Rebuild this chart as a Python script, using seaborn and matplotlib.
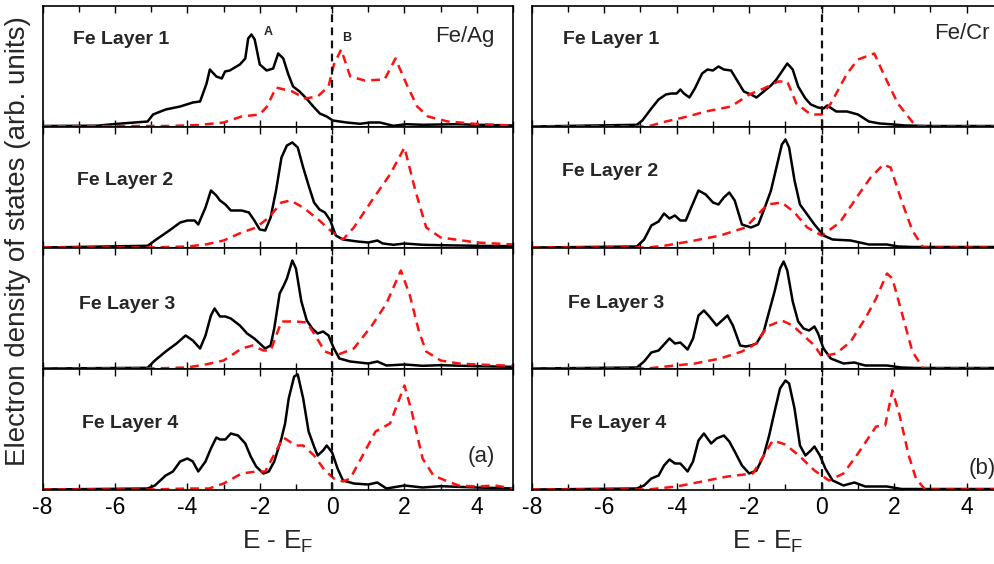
import numpy as np
import pandas as pd
import matplotlib
matplotlib.use("Agg")
import matplotlib.pyplot as plt
import seaborn as sns

sns.set_style("ticks")
plt.rcParams['font.family'] = ['Liberation Sans', 'DejaVu Sans']
plt.rcParams['mathtext.fontset'] = 'custom'
plt.rcParams['mathtext.rm'] = 'Liberation Sans'
plt.rcParams['axes.unicode_minus'] = False

# ---- data (E - E_F in eV, DOS in arb. units) ----
# Fe/Ag, black = spin up, red = spin down
ag1_up_e = [-8, -6.5, -6, -5.1, -4.95, -4.6, -4.2, -3.85, -3.65, -3.47, -3.38, -3.2, -3.05, -2.96, -2.83,
            -2.55, -2.4, -2.32, -2.23, -2.14, -2.0, -1.81, -1.63, -1.49, -1.35, -1.21, -1.08, -0.9, -0.71,
            -0.52, -0.34, -0.15, 0.02, 0.4, 0.77, 1.05, 1.32, 1.69, 2.05, 2.5, 3.43, 4.0, 5.0]
ag1_up = [0.5, 0.8, 2.5, 5, 12, 17, 20, 24, 25, 43, 57, 50, 48, 55, 56,
          62, 68, 88, 92, 87, 62, 56, 58, 73, 68, 52, 40, 35, 28,
          20, 13, 10, 6, 4, 2.7, 4, 4, 0.7, 2.3, 1.7, 2.3, 1.7, 1]
ag1_dn_e = [-8, -4.5, -3.7, -3.0, -2.5, -2.0, -1.8, -1.55, -1.1, -0.75, -0.4, -0.1, 0.05, 0.25, 0.5,
            0.9, 1.45, 1.75, 2.05, 2.35, 2.65, 3.2, 4.0, 5.0]
ag1_dn = [0.3, 0.5, 1.5, 4, 10, 12, 20, 39, 35, 28, 30, 40, 62, 77, 50,
          46, 47, 68, 43, 20, 10, 5, 2.5, 1]

ag2_up_e = [-8, -5.1, -4.9, -4.5, -4.2, -4.0, -3.8, -3.7, -3.5, -3.35, -3.2, -3.1, -2.95, -2.8, -2.5,
            -2.3, -2.15, -2.0, -1.85, -1.7, -1.55, -1.4, -1.25, -1.1, -0.95, -0.8, -0.65, -0.5, -0.35,
            -0.2, -0.05, 0.1, 0.3, 0.7, 1.0, 1.25, 1.4, 1.7, 2.0, 2.5, 3.0, 4.0, 5.0]
ag2_up = [0, 1.7, 7, 17, 25, 27, 27, 23, 40, 57, 52, 47, 43, 37, 37,
          35, 27, 18, 17, 30, 57, 90, 102, 105, 100, 80, 62, 45, 38,
          35, 27, 12, 8, 6, 5, 7, 4, 2.7, 4, 2.7, 2.3, 1.7, 1.3]
ag2_dn_e = [-8, -5, -4, -3.5, -3.0, -2.5, -2.1, -1.75, -1.4, -1.15, -0.8, -0.35, -0.05, 0.3, 0.6,
            1.1, 1.6, 2.0, 2.3, 2.6, 3.0, 4.0, 5.0]
ag2_dn = [0, 0, 1, 3, 7, 15, 20, 30, 45, 47, 40, 27, 17, 8, 20,
          47, 73, 100, 57, 20, 10, 5, 3]

ag3_up_e = [-8, -5.1, -4.9, -4.6, -4.3, -4.05, -3.85, -3.65, -3.5, -3.35, -3.25, -3.1, -2.95, -2.8,
            -2.55, -2.35, -2.15, -2.0, -1.85, -1.7, -1.6, -1.45, -1.35, -1.25, -1.1, -1.0, -0.85, -0.7,
            -0.55, -0.4, -0.25, -0.1, 0.05, 0.2, 0.5, 1.0, 1.25, 1.5, 2.0, 2.5, 3.0, 4.0, 5.0]
ag3_up = [0, 0.7, 8, 17, 25, 33, 28, 20, 33, 53, 60, 52, 52, 50,
          43, 35, 30, 25, 20, 23, 40, 75, 82, 90, 108, 100, 67, 48,
          40, 35, 37, 33, 20, 10, 7, 5, 7, 3, 4, 2.7, 3.3, 2.3, 1.7]
ag3_dn_e = [-8, -5, -4, -3.5, -3.0, -2.5, -2.2, -1.9, -1.7, -1.4, -1.0, -0.7, -0.5, -0.2, 0.1,
            0.6, 1.1, 1.5, 1.9, 2.15, 2.4, 2.6, 3.0, 3.5, 4.0, 5.0]
ag3_dn = [0, 0, 1, 4, 8, 20, 23, 18, 18, 47, 47, 46, 35, 17, 13,
          20, 43, 65, 98, 73, 37, 17, 8, 5, 4, 2.7]

ag4_up_e = [-8, -5.1, -4.9, -4.6, -4.4, -4.2, -4.0, -3.85, -3.7, -3.5, -3.35, -3.2, -3.1, -2.95, -2.8,
            -2.6, -2.4, -2.25, -2.1, -1.9, -1.75, -1.6, -1.4, -1.3, -1.2, -1.05, -0.95, -0.8, -0.65,
            -0.5, -0.4, -0.25, -0.15, 0.0, 0.15, 0.3, 0.6, 1.0, 1.25, 1.5, 2.0, 2.5, 3.0, 4.0, 5.0]
ag4_up = [0, 1, 4, 14, 18, 28, 31, 28, 18, 28, 41, 52, 50, 50, 56,
          54, 46, 33, 23, 16, 18, 28, 51, 66, 91, 113, 115, 91, 58,
          43, 34, 39, 44, 37, 21, 9, 6, 5, 7, 1, 4, 2, 3.3, 2, 1]
ag4_dn_e = [-8, -5, -4, -3.4, -3.0, -2.5, -2.1, -1.85, -1.35, -1.0, -0.8, -0.5, -0.2, 0.05, 0.3,
            0.5, 0.8, 1.2, 1.6, 2.0, 2.2, 2.5, 2.8, 3.2, 3.5, 4.0, 4.5, 5.0]
ag4_dn = [0, 0, 1, 1, 6, 16, 18, 18, 52, 44, 44, 34, 19, 11, 8,
          11, 31, 58, 66, 104, 78, 31, 14, 8, 4, 3, 4, 1]

# Fe/Cr
cr1_up_e = [-8, -5.1, -4.95, -4.7, -4.5, -4.3, -4.15, -4.0, -3.9, -3.8, -3.65, -3.5, -3.3, -3.15, -3.0,
            -2.85, -2.7, -2.5, -2.35, -2.15, -1.95, -1.8, -1.6, -1.4, -1.25, -1.1, -0.95, -0.8, -0.65,
            -0.45, -0.3, -0.1, 0.05, 0.15, 0.4, 0.7, 1.0, 1.3, 1.6, 2.0, 2.3, 3.0, 5.0]
cr1_up = [0, 1.7, 6, 18, 27, 32, 33, 33, 37, 33, 29, 38, 53, 57, 56,
          60, 57, 56, 47, 35, 32, 29, 35, 41, 47, 55, 63, 57, 40,
          28, 22, 19, 18, 21, 15, 15, 12, 5, 3, 2, 1, 0.5, 0.5]
cr1_dn_e = [-8, -4.8, -4.3, -3.7, -3.2, -2.5, -2.0, -1.6, -1.2, -0.95, -0.7, -0.3, 0.0, 0.25, 0.7,
            1.0, 1.45, 1.7, 2.1, 2.6, 5.0]
cr1_dn = [0, 0, 5, 10, 15, 20, 32, 38, 45, 45, 23, 12, 12, 23, 53,
          67, 73, 53, 23, 0, 0]

cr2_up_e = [-8, -5.1, -4.9, -4.7, -4.5, -4.35, -4.2, -4.05, -3.9, -3.75, -3.6, -3.4, -3.2, -3.0, -2.85,
            -2.7, -2.55, -2.4, -2.2, -1.95, -1.75, -1.6, -1.4, -1.25, -1.1, -1.0, -0.9, -0.75, -0.6,
            -0.4, -0.2, 0.05, 0.3, 0.8, 1.3, 1.8, 2.1, 2.5, 5.0]
cr2_up = [0, 1, 8, 22, 26, 34, 29, 32, 27, 27, 40, 57, 53, 45, 43,
          50, 55, 47, 23, 20, 23, 37, 57, 80, 103, 108, 100, 67, 43,
          33, 23, 12, 8, 7, 3, 3, 1, 0.5, 0.5]
cr2_dn_e = [-8, -4.8, -4.3, -3.5, -2.8, -2.1, -1.5, -1.1, -0.75, -0.4, 0.0, 0.5, 1.0, 1.35, 1.7,
            1.9, 2.2, 2.5, 2.8, 5.0]
cr2_dn = [0, 0, 2, 7, 12, 20, 43, 45, 35, 20, 12, 25, 52, 70, 83,
          80, 47, 17, 0, 0]

cr3_up_e = [-8, -5.1, -4.9, -4.7, -4.5, -4.35, -4.2, -4.05, -3.9, -3.7, -3.55, -3.4, -3.25, -3.1, -2.9,
            -2.75, -2.6, -2.45, -2.25, -2.1, -1.95, -1.8, -1.6, -1.45, -1.3, -1.15, -1.05, -0.95, -0.8,
            -0.65, -0.5, -0.35, -0.2, -0.1, 0.05, 0.25, 0.6, 0.9, 1.2, 1.8, 2.2, 2.6, 5.0]
cr3_up = [0, 1, 7, 16, 18, 24, 30, 25, 26, 19, 30, 53, 58, 52, 43,
          48, 53, 43, 23, 22, 23, 25, 37, 57, 77, 100, 107, 98, 67,
          47, 40, 38, 42, 35, 20, 10, 5, 6, 3, 3, 1, 0.5, 0.5]
cr3_dn_e = [-8, -4.8, -4.3, -3.5, -2.8, -2.2, -1.8, -1.5, -1.1, -0.8, -0.5, -0.2, 0.0, 0.4, 0.8,
            1.2, 1.5, 1.8, 1.95, 2.2, 2.5, 2.8, 5.0]
cr3_dn = [0, 0, 2, 5, 10, 17, 25, 42, 48, 43, 33, 23, 12, 15, 27,
          50, 70, 95, 90, 57, 17, 0, 0]

cr4_up_e = [-8, -5.1, -4.9, -4.7, -4.5, -4.35, -4.2, -4.05, -3.9, -3.7, -3.55, -3.4, -3.25, -3.05, -2.9,
            -2.7, -2.55, -2.4, -2.2, -2.0, -1.8, -1.6, -1.45, -1.3, -1.15, -1.0, -0.9, -0.75, -0.6,
            -0.45, -0.3, -0.2, -0.05, 0.1, 0.3, 0.6, 0.9, 1.2, 1.8, 2.2, 5.0]
cr4_up = [0, 1, 4, 11, 14, 24, 30, 26, 26, 18, 28, 49, 56, 46, 51,
          54, 48, 38, 24, 16, 19, 34, 54, 78, 101, 109, 106, 81, 44,
          34, 39, 43, 34, 21, 9, 4, 7, 3, 3, 0.5, 0.5]
cr4_dn_e = [-8, -4.8, -4.0, -3.3, -2.6, -1.9, -1.35, -1.0, -0.6, -0.2, 0.2, 0.6, 1.0, 1.5, 1.75,
            1.95, 2.15, 2.4, 2.6, 2.85, 5.0]
cr4_dn = [0, 0, 3, 8, 13, 16, 49, 45, 33, 19, 9, 16, 36, 63, 64,
          99, 74, 34, 11, 0, 0]

layer_labels = ["Fe Layer 1", "Fe Layer 2", "Fe Layer 3", "Fe Layer 4"]
system_labels = ["Fe/Ag", "Fe/Cr"]
panel_tags = ["(a)", "(b)"]

ag = [(ag1_up_e, ag1_up, ag1_dn_e, ag1_dn), (ag2_up_e, ag2_up, ag2_dn_e, ag2_dn),
      (ag3_up_e, ag3_up, ag3_dn_e, ag3_dn), (ag4_up_e, ag4_up, ag4_dn_e, ag4_dn)]
cr = [(cr1_up_e, cr1_up, cr1_dn_e, cr1_dn), (cr2_up_e, cr2_up, cr2_dn_e, cr2_dn),
      (cr3_up_e, cr3_up, cr3_dn_e, cr3_dn), (cr4_up_e, cr4_up, cr4_dn_e, cr4_dn)]

# ---- layout ----
fig = plt.figure(figsize=(9.95, 5.64), dpi=100)
row_h = 0.21454
col_left = [0.0429, 0.5344]
col_w = [0.4727, 0.4736]
# label positions (x in data, y in axes fraction)
lab_pos = [[(-7.16, 0.72), (-7.05, 0.56), (-7.0, 0.53), (-6.9, 0.55)],
           [(-7.14, 0.72), (-7.17, 0.63), (-7.0, 0.54), (-6.95, 0.55)]]
dash = (0, (3.5, 2.4))

for c, panels in enumerate([ag, cr]):
    for r, (ue, u, de, d) in enumerate(panels):
        ax = fig.add_axes([col_left[c], 0.13121 + (3 - r) * row_h, col_w[c], row_h])
        sns.lineplot(x=ue, y=u, ax=ax, color='black', lw=1.8, estimator=None, sort=False)
        sns.lineplot(x=de, y=d, ax=ax, color='#ff1010', lw=1.8, linestyle=dash,
                     estimator=None, sort=False)
        ax.axvline(0, color='#111111', lw=1.6, linestyle=dash)
        ax.set_xlim(-8, 5)
        ax.set_ylim(-0.5, 120.5)
        ax.set_yticks([])
        ax.set_xticks(range(-8, 5, 2))
        ax.set_xticks(range(-8, 6, 1), minor=True)
        ax.tick_params(which='both', direction='in', top=True, bottom=True, width=1.0,
                       labelsize=16.5, pad=4, colors='black')
        ax.tick_params(which='major', length=5)
        ax.tick_params(which='minor', length=4)
        for s in ax.spines.values():
            s.set_linewidth(1.2)
            s.set_color('black')
        lx, ly = lab_pos[c][r]
        ax.text(lx, ly, layer_labels[r], transform=ax.get_xaxis_transform(),
                fontsize=14, fontweight='bold', va='center', ha='left')
        if r == 0:
            sx, sy = [(4.5, 0.75), (4.64, 0.77)][c]
            ax.text(sx, sy, system_labels[c], transform=ax.get_xaxis_transform(),
                    fontsize=16, va='center', ha='right')
            if c == 0:
                ax.text(-1.76, 94, "A", fontsize=9, fontweight='bold', ha='center', va='center')
                ax.text(0.40, 88, "B", fontsize=9, fontweight='bold', ha='center', va='center')
        if r == 3:
            tx, ty, ha = [(4.5, 0.28, 'right'), (4.04, 0.18, 'left')][c]
            ax.text(tx, ty, panel_tags[c], transform=ax.get_xaxis_transform(),
                    fontsize=16, va='center', ha=ha)
            ax.set_xlabel(r"E - E$_\mathregular{F}$", fontsize=19, labelpad=7)
        else:
            ax.tick_params(labelbottom=False)
        ax.set_ylabel("")

fig.text(18 / 995, 1 - 241 / 564, "Electron density of states (arb. units)", rotation=90,
         fontsize=20, ha='center', va='center')

fig.savefig("out.png", dpi=100)
